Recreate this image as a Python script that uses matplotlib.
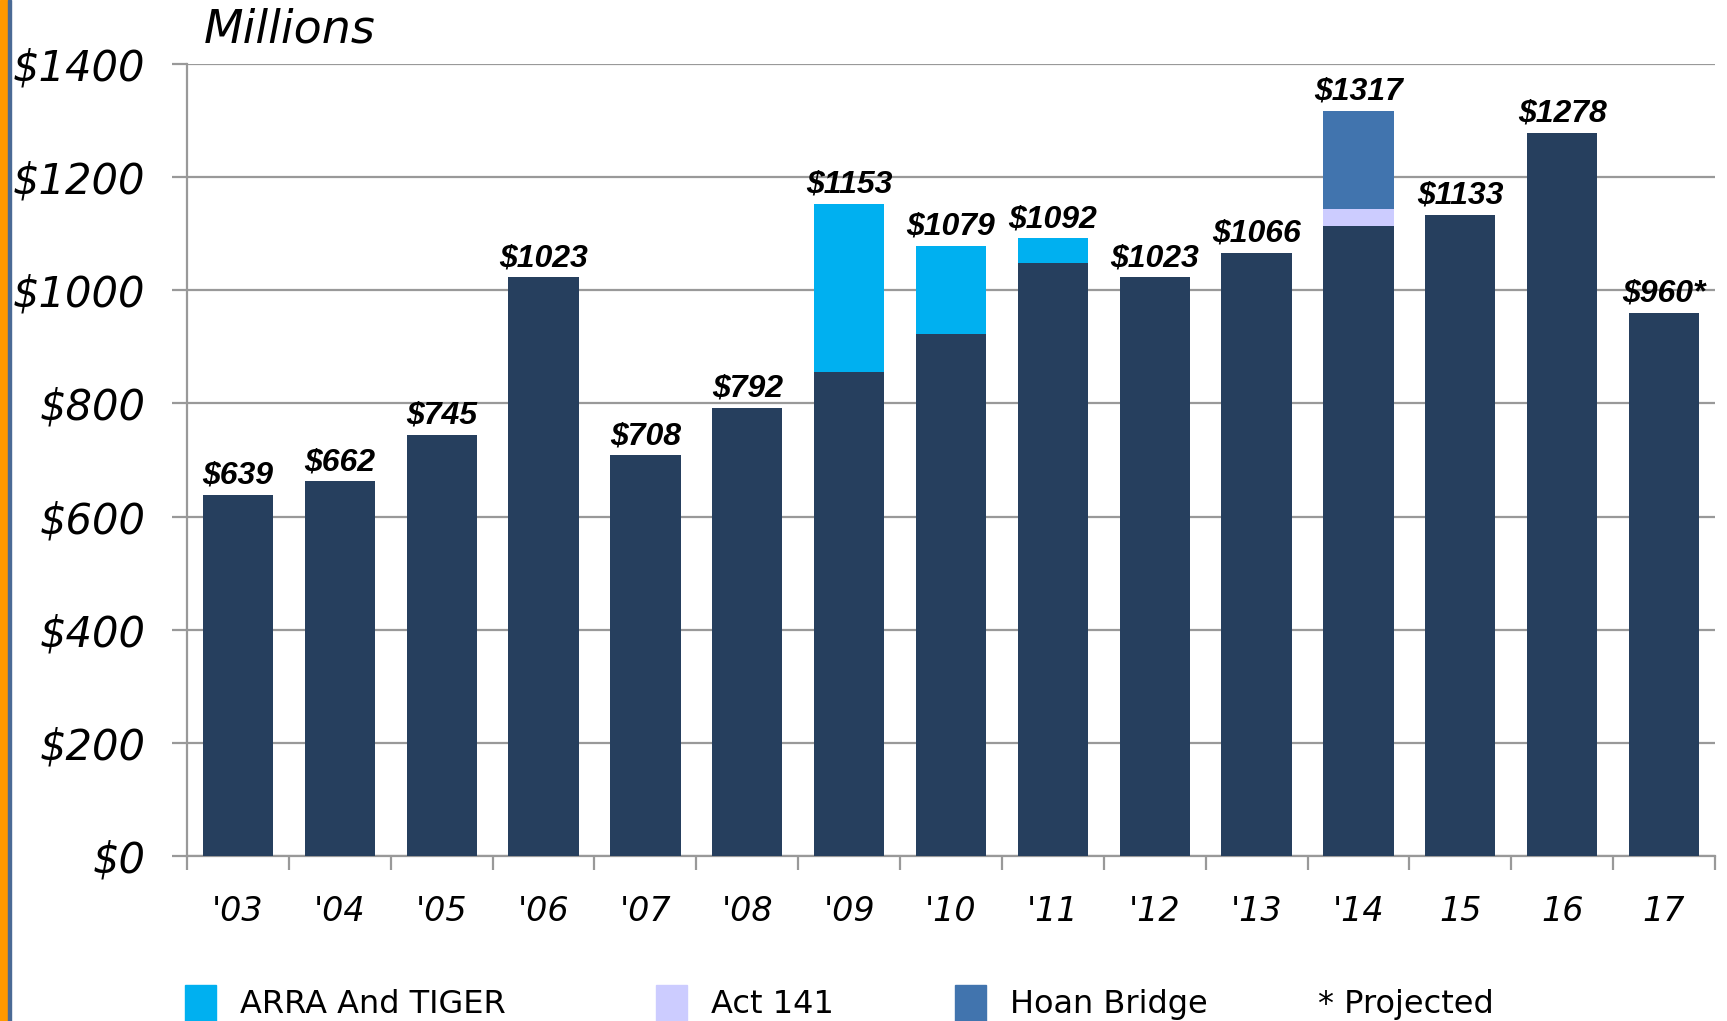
import matplotlib
matplotlib.use("Agg")
from matplotlib import pyplot as plt
from matplotlib import font_manager
from matplotlib.patches import Rectangle

years = ["'03", "'04", "'05", "'06", "'07", "'08", "'09", "'10", "'11", "'12", "'13", "'14", "15", "16", "17"]
totals = [639, 662, 745, 1023, 708, 792, 1153, 1079, 1092, 1023, 1066, 1317, 1133, 1278, 960]
base = [639, 662, 745, 1023, 708, 792, 855, 923, 1049, 1023, 1066, 1114, 1133, 1278, 960]
arra = [0, 0, 0, 0, 0, 0, 298, 156, 43, 0, 0, 0, 0, 0, 0]
act141 = [0, 0, 0, 0, 0, 0, 0, 0, 0, 0, 0, 29, 0, 0, 0]
hoan = [0, 0, 0, 0, 0, 0, 0, 0, 0, 0, 0, 174, 0, 0, 0]
value_labels = ["$" + str(v) for v in totals]
value_labels[-1] = "$960*"
yticks = [0, 200, 400, 600, 800, 1000, 1200, 1400]

NAVY = "#263F5E"
ARRA_C = "#00B0F0"
ACT_C = "#CCCCFF"
HOAN_C = "#4174AE"
GRID = "#999999"


def has_font(name):
    try:
        font_manager.findfont(name, fallback_to_default=False)
        return True
    except Exception:
        return False


narrow = "Liberation Sans Narrow" if has_font("Liberation Sans Narrow") else "DejaVu Sans"

fig = plt.figure(figsize=(17.27, 10.21), dpi=100)
ax = fig.add_axes([187 / 1727, 165 / 1021, (1715 - 187) / 1727, (957 - 165) / 1021])

x = list(range(len(years)))
w = 0.69
ax.bar(x, base, width=w, color=NAVY, zorder=3)
bot = [b for b in base]
ax.bar(x, arra, width=w, bottom=bot, color=ARRA_C, zorder=3)
bot = [b + a for b, a in zip(bot, arra)]
ax.bar(x, act141, width=w, bottom=bot, color=ACT_C, zorder=3)
bot = [b + a for b, a in zip(bot, act141)]
ax.bar(x, hoan, width=w, bottom=bot, color=HOAN_C, zorder=3)

for i, t in enumerate(totals):
    ax.annotate(value_labels[i], (i, t), xytext=(0, 3), textcoords="offset points",
                ha="center", va="bottom", fontsize=23, fontweight="bold", fontstyle="italic",
                family="Liberation Sans", color="black")

ax.set_xlim(-0.5, len(years) - 0.5)
ax.set_ylim(0, 1400)
ax.set_yticks(yticks)
ax.set_yticklabels(["$" + str(v) for v in yticks], fontsize=30, fontstyle="italic",
                   family="DejaVu Sans")
ax.yaxis.grid(True, color=GRID, linewidth=1.6, zorder=0)
ax.tick_params(axis="y", length=11, width=1.6, color=GRID, pad=19)

ax.set_xticks(x)
ax.set_xticklabels(years, fontsize=24, fontstyle="italic", family=narrow)
ax.tick_params(axis="x", which="major", length=0, pad=28)
ax.set_xticks([i - 0.5 for i in range(len(years) + 1)], minor=True)
ax.tick_params(axis="x", which="minor", length=10, width=1.6, color=GRID)

for s in ["top", "right"]:
    ax.spines[s].set_visible(False)
for s in ["left", "bottom"]:
    ax.spines[s].set_color(GRID)
    ax.spines[s].set_linewidth(1.6)

fig.text(204 / 1727, 1 - 30 / 1021, "Millions", fontsize=33, fontstyle="italic",
         family="DejaVu Sans", va="center", ha="left")

# left border stripes
fig.add_artist(Rectangle((0, 0), 8 / 1727, 1, transform=fig.transFigure, color="#FF9900"))
fig.add_artist(Rectangle((8 / 1727, 0), 3 / 1727, 1, transform=fig.transFigure, color="#4A6A95"))

# legend
legend_items = [("ARRA And TIGER", ARRA_C, 185), ("Act 141", ACT_C, 656), ("Hoan Bridge", HOAN_C, 955)]
for label, col, px in legend_items:
    fig.add_artist(Rectangle((px / 1727, 0), 31 / 1727, 36 / 1021, transform=fig.transFigure, color=col))
    fig.text((px + 55) / 1727, 17 / 1021, label, fontsize=23, family=narrow, va="center", ha="left")
fig.text(1318 / 1727, 17 / 1021, "* Projected", fontsize=23, family=narrow, va="center", ha="left")

fig.savefig("out.png", dpi=100)
